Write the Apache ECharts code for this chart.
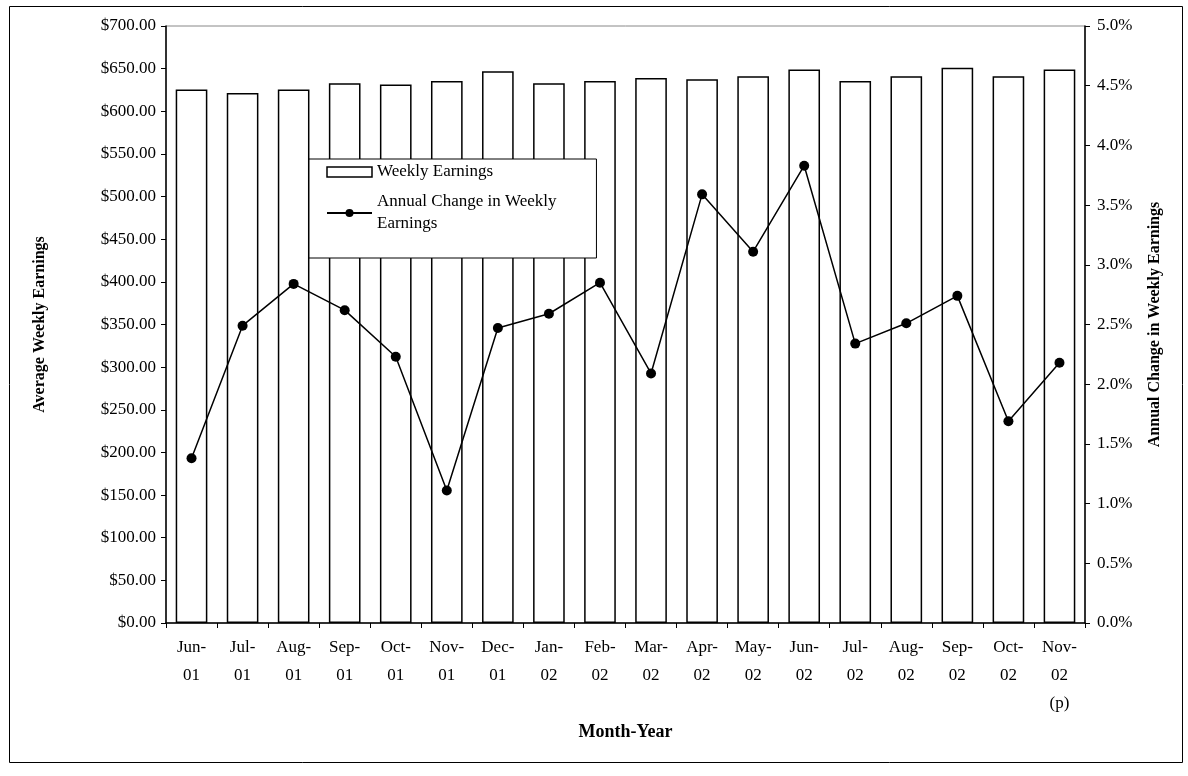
<!DOCTYPE html>
<html>
<head>
<meta charset="utf-8">
<script src="https://cdn.jsdelivr.net/npm/echarts@6/dist/echarts.min.js"></script>
<style>
html,body{margin:0;padding:0;background:#fff;}
#chart{width:1188px;height:776px;}
</style>
</head>
<body>
<div id="chart"></div>
<script>
const categories = ['Jun-\n01','Jul-\n01','Aug-\n01','Sep-\n01','Oct-\n01','Nov-\n01','Dec-\n01','Jan-\n02','Feb-\n02','Mar-\n02','Apr-\n02','May-\n02','Jun-\n02','Jul-\n02','Aug-\n02','Sep-\n02','Oct-\n02','Nov-\n02\n(p)'];
const weeklyEarnings = [625.5, 621.5, 625.5, 633, 631.5, 635.5, 647, 633, 635.5, 639, 637.5, 641, 649, 635.5, 641, 651, 641, 649];
const annualChange = [1.38, 2.49, 2.84, 2.62, 2.23, 1.11, 2.47, 2.59, 2.85, 2.09, 3.59, 3.11, 3.83, 2.34, 2.51, 2.74, 1.69, 2.18];
const seriesNames = ['Weekly Earnings', 'Annual Change in Weekly Earnings'];

const FONT = '"Liberation Serif", "DejaVu Serif", serif';
const chart = echarts.init(document.getElementById('chart'));
chart.setOption({
  animation: false,
  backgroundColor: '#fff',
  textStyle: { fontFamily: FONT, color: '#000' },
  graphic: [{
    type: 'rect', left: 7, top: 4, silent: true,
    shape: { width: 1173, height: 756 },
    style: { fill: 'none', stroke: '#000', lineWidth: 1 }
  }],
  grid: { left: 166, right: 103, top: 26, bottom: 153, show: true, borderColor: '#888', borderWidth: 1, backgroundColor: 'transparent' },
  legend: {
    orient: 'vertical', left: 309, top: 159,
    padding: [2, 40, 12, 17],
    itemGap: -3, itemWidth: 45, itemHeight: 10, itemTextGap: 8,
    borderColor: '#000', borderWidth: 1, backgroundColor: '#fff',
    textStyle: { fontFamily: FONT, fontSize: 17, color: '#000', lineHeight: 22 },
    data: [
      { name: seriesNames[0], icon: 'rect', itemStyle: { color: '#fff', borderColor: '#000', borderWidth: 1.5 } },
      { name: seriesNames[1], textStyle: { padding: [22, 0, 0, 0] } }
    ],
    formatter: function (n) { return n === seriesNames[1] ? 'Annual Change in Weekly\nEarnings' : n; }
  },
  xAxis: {
    type: 'category', data: categories,
    name: 'Month-Year', nameLocation: 'middle', nameGap: 100,
    nameTextStyle: { fontFamily: FONT, fontSize: 18, fontWeight: 'bold', color: '#000' },
    axisLine: { lineStyle: { color: '#000', width: 1.5 } },
    axisTick: { show: true, alignWithLabel: false, length: 5, lineStyle: { color: '#000' } },
    axisLabel: { fontFamily: FONT, fontSize: 17, color: '#000', lineHeight: 28, margin: 11, interval: 0 }
  },
  yAxis: [{
    type: 'value', min: 0, max: 700, interval: 50, position: 'left',
    name: 'Average Weekly Earnings', nameLocation: 'middle', nameGap: 118, nameRotate: 90,
    nameTextStyle: { fontFamily: FONT, fontSize: 16, fontWeight: 'bold', color: '#000' },
    axisLine: { show: true, lineStyle: { color: '#000', width: 1.5 } },
    axisTick: { show: true, length: 5, lineStyle: { color: '#000' } },
    splitLine: { show: false },
    axisLabel: { fontFamily: FONT, fontSize: 17, color: '#000', margin: 10, formatter: v => '$' + v.toFixed(2) }
  }, {
    type: 'value', min: 0, max: 5, interval: 0.5, position: 'right',
    name: 'Annual Change in Weekly Earnings', nameLocation: 'middle', nameGap: 62, nameRotate: 90,
    nameTextStyle: { fontFamily: FONT, fontSize: 16, fontWeight: 'bold', color: '#000' },
    axisLine: { show: true, lineStyle: { color: '#000', width: 1.5 } },
    axisTick: { show: true, length: 5, lineStyle: { color: '#000' } },
    splitLine: { show: false },
    axisLabel: { fontFamily: FONT, fontSize: 17, color: '#000', margin: 12, formatter: v => v.toFixed(1) + '%' }
  }],
  series: [{
    name: seriesNames[0], type: 'bar', data: weeklyEarnings, yAxisIndex: 0,
    barWidth: '62%',
    itemStyle: { color: '#fff', borderColor: '#000', borderWidth: 1.5 }
  }, {
    name: seriesNames[1], type: 'line', data: annualChange, yAxisIndex: 1,
    symbol: 'circle', symbolSize: 10,
    lineStyle: { color: '#000', width: 1.5 },
    itemStyle: { color: '#000' }
  }]
});
</script>
</body>
</html>
